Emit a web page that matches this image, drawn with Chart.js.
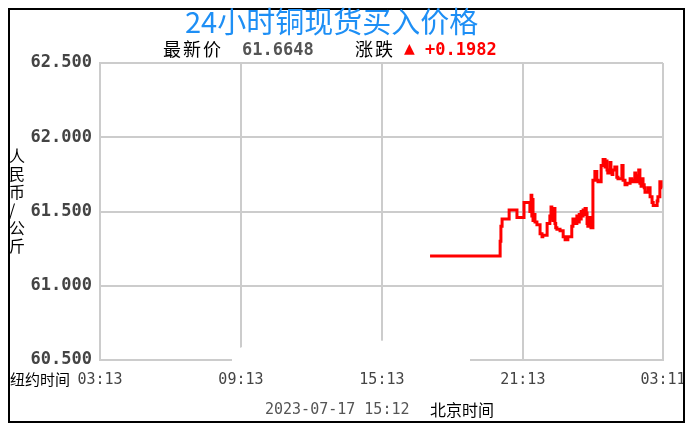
<!DOCTYPE html>
<html>
<head>
<meta charset="utf-8">
<script src="https://cdn.jsdelivr.net/npm/chart.js@4/dist/chart.umd.min.js"></script>
<style>
body{margin:0;width:693px;height:433px;background:#fff;position:relative;overflow:hidden;}
#chart{position:absolute;left:0;top:0;}
.frame{position:absolute;left:8px;top:8px;width:673px;height:411px;border:2px solid #000;pointer-events:none;}
.t{position:absolute;white-space:nowrap;line-height:1;}
.cjk{font-family:"Noto Sans CJK SC",sans-serif;}
.mono{font-family:"DejaVu Sans Mono",monospace;}
</style>
</head>
<body>
<canvas id="chart" width="684" height="433"></canvas>
<div class="frame"></div>
<div class="t cjk" style="left:185px;top:6px;font-size:29px;color:#1e8ff5;">24小时铜现货买入价格</div>
<div class="t cjk" style="left:163px;top:39px;font-size:18px;letter-spacing:2px;color:#000;">最新价</div>
<div class="t mono" style="left:242px;top:41px;font-size:17px;font-weight:bold;color:#555;">61.6648</div>
<div class="t cjk" style="left:355px;top:39px;font-size:18px;letter-spacing:2px;color:#000;">涨跌</div>
<div class="t" style="left:404px;top:41px;font-size:14px;color:#f00;font-family:'DejaVu Sans',sans-serif;">▲</div>
<div class="t mono" style="left:425px;top:41px;font-size:17px;font-weight:bold;color:#f00;">+0.1982</div>
<div class="t cjk" style="left:9px;top:146px;font-size:16px;line-height:18px;color:#000;">人<br>民<br>币<br>/<br>公<br>斤</div>
<div class="t cjk" style="left:10px;top:371px;font-size:15px;color:#000;">纽约时间</div>
<div class="t mono" style="left:265px;top:402px;font-size:15px;color:#555;">2023-07-17 15:12</div>
<div class="t cjk" style="left:430px;top:401px;font-size:16px;color:#000;">北京时间</div>
<script>
// minutes after 03:13 (New York time)
const minutes = [843, 1022, 1024, 1027, 1045, 1065, 1083, 1098, 1101, 1103, 1105, 1106, 1108, 1111, 1116, 1124, 1129, 1131,
    1142, 1149, 1152, 1154, 1156, 1157, 1159, 1162, 1164, 1167, 1175, 1183, 1188, 1195, 1205, 1208, 1214, 1218,
    1221, 1224, 1226, 1229, 1232, 1234, 1237, 1239, 1242, 1244, 1246, 1251, 1254, 1259,
    1264, 1269, 1272, 1280, 1285, 1290, 1292, 1295, 1297, 1303, 1305, 1308, 1310, 1315,
    1320, 1323, 1333, 1336, 1341, 1346, 1354, 1358, 1361, 1366, 1368, 1372, 1374, 1376, 1379, 1382, 1384, 1387, 1390, 1392, 1400,
    1405, 1410, 1413, 1423, 1425, 1430, 1433, 1436];
const prices = [61.20, 61.20, 61.30, 61.40, 61.45, 61.51, 61.46, 61.56, 61.50, 61.61, 61.47, 61.58, 61.44, 61.48, 61.43, 61.41, 61.35, 61.33,
    61.34, 61.42, 61.47, 61.53, 61.45, 61.52, 61.44, 61.52, 61.42, 61.39, 61.38, 61.37, 61.33, 61.31, 61.33, 61.40, 61.45, 61.42,
    61.47, 61.43, 61.48, 61.45, 61.50, 61.47, 61.51, 61.48, 61.52, 61.49, 61.42, 61.40, 61.46, 61.39,
    61.71, 61.77, 61.71, 61.70, 61.81, 61.85, 61.80, 61.84, 61.78, 61.76, 61.83, 61.77, 61.75, 61.78,
    61.80, 61.73, 61.72, 61.81, 61.71, 61.68, 61.69, 61.72, 61.70, 61.71, 61.76, 61.70, 61.74, 61.70, 61.78, 61.69, 61.67, 61.72, 61.68, 61.66, 61.63,
    61.66, 61.60, 61.56, 61.54, 61.57, 61.60, 61.70, 61.66];
const tickMinutes = [0, 360, 720, 1080, 1438];
const tickLabels = ['03:13', '09:13', '15:13', '21:13', '03:11'];

const points = minutes.map(function(m, i){ return {x: m, y: prices[i]}; });

// erased watermark patch under the chart
const patch = {
    id: 'patch',
    afterDraw: function(chart){
        const c = chart.ctx;
        c.save();
        c.fillStyle = '#fff';
        c.beginPath();
        c.moveTo(232, 352);
        c.quadraticCurveTo(250, 340, 300, 340);
        c.lineTo(420, 341);
        c.quadraticCurveTo(468, 342, 470, 350);
        c.lineTo(470, 363);
        c.lineTo(232, 363);
        c.closePath();
        c.fill();
        c.restore();
    }
};

new Chart(document.getElementById('chart'), {
    type: 'line',
    data: {
        datasets: [{
            data: points,
            borderColor: '#ff0000',
            borderWidth: 3,
            pointRadius: 0,
            stepped: 'after',
            fill: false
        }]
    },
    options: {
        responsive: false,
        animation: false,
        layout: { padding: { left: 0, right: 21, top: 63, bottom: 43 } },
        plugins: { legend: { display: false }, tooltip: { enabled: false } },
        scales: {
            x: {
                type: 'linear',
                min: 0,
                max: 1438,
                afterBuildTicks: function(scale){
                    scale.ticks = tickMinutes.map(function(v){ return {value: v}; });
                },
                afterFit: function(scale){
                    scale.height = 30;
                    scale.paddingLeft = 0;
                    scale.paddingRight = 0;
                },
                grid: { color: '#cccccc', lineWidth: 2, drawTicks: false },
                border: { color: '#cccccc', width: 2 },
                ticks: {
                    padding: 11,
                    maxRotation: 0,
                    autoSkip: false,
                    color: '#444',
                    font: { family: 'DejaVu Sans Mono', size: 15 },
                    callback: function(v){
                        const i = tickMinutes.indexOf(v);
                        return i >= 0 ? tickLabels[i] : '';
                    }
                }
            },
            y: {
                min: 60.5,
                max: 62.5,
                afterFit: function(scale){
                    scale.width = 100;
                    scale.paddingTop = 0;
                    scale.paddingBottom = 0;
                },
                grid: { color: '#cccccc', lineWidth: 2, drawTicks: false },
                border: { color: '#cccccc', width: 2 },
                ticks: {
                    stepSize: 0.5,
                    padding: 8,
                    color: '#444',
                    font: { family: 'DejaVu Sans Mono', size: 17, weight: 'bold' },
                    callback: function(v){ return v.toFixed(3); }
                }
            }
        }
    },
    plugins: [patch]
});
</script>
</body>
</html>
